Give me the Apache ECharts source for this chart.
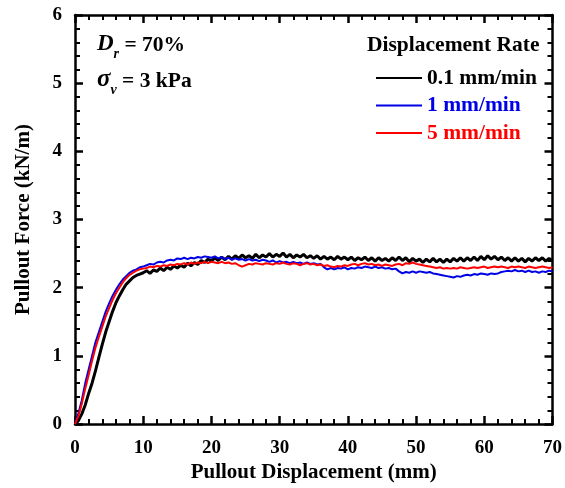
<!DOCTYPE html>
<html>
<head>
<meta charset="utf-8">
<script src="https://cdn.jsdelivr.net/npm/echarts@6/dist/echarts.min.js"></script>
<style>
  html, body { margin: 0; padding: 0; background: #fff; }
  #main { width: 565px; height: 488px; }
</style>
</head>
<body>
<div id="main"></div>
<script>
// pullout displacement (mm), sampled every 0.5 mm
var disp = [
  0, 0.5, 1, 1.5, 2, 2.5, 3, 3.5, 4, 4.5, 5, 5.5, 6, 6.5, 7, 7.5, 8, 8.5, 9, 9.5,
  10, 10.5, 11, 11.5, 12, 12.5, 13, 13.5, 14, 14.5, 15, 15.5, 16, 16.5, 17, 17.5, 18, 18.5, 19, 19.5,
  20, 20.5, 21, 21.5, 22, 22.5, 23, 23.5, 24, 24.5, 25, 25.5, 26, 26.5, 27, 27.5, 28, 28.5, 29, 29.5,
  30, 30.5, 31, 31.5, 32, 32.5, 33, 33.5, 34, 34.5, 35, 35.5, 36, 36.5, 37, 37.5, 38, 38.5, 39, 39.5,
  40, 40.5, 41, 41.5, 42, 42.5, 43, 43.5, 44, 44.5, 45, 45.5, 46, 46.5, 47, 47.5, 48, 48.5, 49, 49.5,
  50, 50.5, 51, 51.5, 52, 52.5, 53, 53.5, 54, 54.5, 55, 55.5, 56, 56.5, 57, 57.5, 58, 58.5, 59, 59.5,
  60, 60.5, 61, 61.5, 62, 62.5, 63, 63.5, 64, 64.5, 65, 65.5, 66, 66.5, 67, 67.5, 68, 68.5, 69, 69.5,
  70
];

// pullout force (kN/m) - 0.1 mm/min
var force01 = [
  0, 0.05, 0.15, 0.28, 0.45, 0.6, 0.78, 0.98, 1.17, 1.35, 1.5, 1.65, 1.78, 1.88, 1.97, 2.05, 2.1, 2.15, 2.18, 2.2,
  2.22, 2.25, 2.21, 2.26, 2.24, 2.29, 2.25, 2.30, 2.27, 2.32, 2.29, 2.33, 2.30, 2.36, 2.32, 2.37, 2.34, 2.40, 2.37, 2.42,
  2.39, 2.44, 2.40, 2.45, 2.41, 2.46, 2.42, 2.47, 2.43, 2.48, 2.44, 2.47, 2.43, 2.49, 2.44, 2.48, 2.45, 2.50, 2.45, 2.49,
  2.46, 2.51, 2.45, 2.49, 2.44, 2.48, 2.45, 2.49, 2.44, 2.47, 2.43, 2.47, 2.42, 2.46, 2.42, 2.45, 2.41, 2.46, 2.42, 2.45,
  2.41, 2.45, 2.40, 2.44, 2.41, 2.45, 2.40, 2.44, 2.39, 2.44, 2.40, 2.43, 2.39, 2.44, 2.40, 2.45, 2.40, 2.44, 2.38, 2.43,
  2.39, 2.42, 2.37, 2.42, 2.38, 2.43, 2.38, 2.42, 2.37, 2.42, 2.38, 2.43, 2.39, 2.44, 2.39, 2.44, 2.40, 2.45, 2.40, 2.46,
  2.41, 2.47, 2.42, 2.46, 2.41, 2.45, 2.40, 2.44, 2.39, 2.44, 2.39, 2.43, 2.38, 2.43, 2.39, 2.44, 2.40, 2.44, 2.39, 2.43,
  2.40
];

// pullout force (kN/m) - 1 mm/min
var force1 = [
  0, 0.16, 0.35, 0.6, 0.8, 1.0, 1.2, 1.35, 1.5, 1.65, 1.77, 1.88, 1.97, 2.05, 2.12, 2.17, 2.22, 2.25, 2.27, 2.30,
  2.31, 2.33, 2.35, 2.34, 2.37, 2.38, 2.37, 2.40, 2.41, 2.40, 2.43, 2.42, 2.44, 2.42, 2.44, 2.43, 2.45, 2.44, 2.46, 2.45,
  2.44, 2.46, 2.43, 2.45, 2.42, 2.44, 2.41, 2.43, 2.41, 2.42, 2.40, 2.42, 2.40, 2.41, 2.39, 2.41, 2.40, 2.38, 2.40, 2.37,
  2.39, 2.37, 2.38, 2.36, 2.38, 2.36, 2.37, 2.35, 2.37, 2.35, 2.36, 2.34, 2.35, 2.30, 2.27, 2.29, 2.27, 2.29, 2.28, 2.30,
  2.27, 2.29, 2.28, 2.30, 2.29, 2.31, 2.30, 2.29, 2.31, 2.29, 2.30, 2.28, 2.29, 2.27, 2.28, 2.24, 2.21, 2.23, 2.22, 2.24,
  2.22, 2.24, 2.23, 2.22, 2.23, 2.21, 2.20, 2.19, 2.18, 2.17, 2.16, 2.15, 2.17, 2.16, 2.18, 2.19, 2.18, 2.20, 2.19, 2.21,
  2.20, 2.19, 2.21, 2.20, 2.21, 2.23, 2.24, 2.25, 2.24, 2.26, 2.24, 2.25, 2.23, 2.25, 2.23, 2.24, 2.22, 2.24, 2.23, 2.25,
  2.24
];

// pullout force (kN/m) - 5 mm/min
var force5 = [
  0, 0.12, 0.3, 0.52, 0.72, 0.93, 1.12, 1.28, 1.43, 1.58, 1.7, 1.82, 1.92, 2.0, 2.08, 2.14, 2.19, 2.22, 2.25, 2.27,
  2.28, 2.29, 2.31, 2.30, 2.32, 2.31, 2.33, 2.32, 2.34, 2.33, 2.35, 2.34, 2.36, 2.34, 2.37, 2.35, 2.37, 2.36, 2.38, 2.36,
  2.38, 2.37, 2.36, 2.38, 2.36, 2.37, 2.35, 2.36, 2.33, 2.31, 2.33, 2.35, 2.34, 2.36, 2.35, 2.34, 2.36, 2.35, 2.34, 2.36,
  2.35, 2.37, 2.35, 2.34, 2.36, 2.35, 2.33, 2.35, 2.36, 2.34, 2.35, 2.33, 2.34, 2.32, 2.33, 2.31, 2.30, 2.32, 2.31, 2.33,
  2.32, 2.34, 2.35, 2.33, 2.35, 2.36, 2.34, 2.35, 2.33, 2.34, 2.32, 2.34, 2.33, 2.32, 2.34, 2.35, 2.33, 2.36, 2.35, 2.37,
  2.35, 2.34, 2.33, 2.32, 2.31, 2.30, 2.29, 2.30, 2.28, 2.29, 2.28, 2.29, 2.28, 2.30, 2.29, 2.28, 2.29, 2.30, 2.29, 2.30,
  2.31, 2.29, 2.30, 2.31, 2.30, 2.31, 2.30, 2.29, 2.31, 2.30, 2.31, 2.30, 2.29, 2.31, 2.30, 2.29, 2.30, 2.31, 2.30, 2.29,
  2.30
];

var seriesNames = ['0.1 mm/min', '1 mm/min', '5 mm/min'];
var seriesColors = ['#000000', '#0000e6', '#ff0000'];
var xTicks = [0, 10, 20, 30, 40, 50, 60, 70];
var yTicks = [0, 1, 2, 3, 4, 5, 6];

function pairs(xs, ys) {
  var out = [];
  for (var i = 0; i < xs.length; i++) out.push([xs[i], ys[i]]);
  return out;
}

var font = '"Liberation Serif", "Times New Roman", serif';
var chart = echarts.init(document.getElementById('main'), null, { renderer: 'canvas' });

var axisCommon = {
  axisLine: { show: true, onZero: false, lineStyle: { color: '#000', width: 2.5 } },
  axisTick: { show: true, inside: true, length: 8, lineStyle: { color: '#000', width: 2.5 } },
  minorTick: { show: true, splitNumber: 5, length: 5, lineStyle: { color: '#000', width: 2 } },
  splitLine: { show: false }
};

var option = {
  backgroundColor: '#fff',
  animation: false,
  grid: { left: 75, right: 9, top: 15, bottom: 62 },
  xAxis: [
    Object.assign({
      type: 'value', min: xTicks[0], max: xTicks[xTicks.length - 1], interval: 10,
      position: 'bottom',
      name: 'Pullout Displacement (mm)', nameLocation: 'middle', nameGap: 33,
      nameTextStyle: { fontFamily: font, fontWeight: 'bold', fontSize: 21, color: '#000' },
      axisLabel: { margin: 14, fontFamily: font, fontWeight: 'bold', fontSize: 19, color: '#000' }
    }, axisCommon),
    Object.assign({
      type: 'value', min: xTicks[0], max: xTicks[xTicks.length - 1], interval: 10,
      position: 'top', axisLabel: { show: false }
    }, axisCommon)
  ],
  yAxis: [
    Object.assign({
      type: 'value', min: yTicks[0], max: yTicks[yTicks.length - 1], interval: 1,
      position: 'left',
      name: 'Pullout Force (kN/m)', nameLocation: 'middle', nameGap: 41,
      nameTextStyle: { fontFamily: font, fontWeight: 'bold', fontSize: 21, color: '#000' },
      axisLabel: { margin: 13, fontFamily: font, fontWeight: 'bold', fontSize: 19, color: '#000' }
    }, axisCommon),
    Object.assign({
      type: 'value', min: yTicks[0], max: yTicks[yTicks.length - 1], interval: 1,
      position: 'right', axisLabel: { show: false }
    }, axisCommon)
  ],
  legend: {
    orient: 'vertical',
    left: 371,
    top: 62,
    itemWidth: 46,
    itemHeight: 2,
    itemGap: 5.5,
    icon: 'rect',
    textStyle: { fontFamily: font, fontWeight: 'bold', fontSize: 21.5, lineHeight: 22 },
    data: seriesNames.map(function (n, i) {
      return { name: n, textStyle: { color: seriesColors[i] } };
    })
  },
  graphic: [
    {
      type: 'text', left: 367, top: 34,
      style: { text: 'Displacement Rate', font: 'bold 21.5px ' + font, fill: '#000' }
    },
    {
      type: 'text', left: 97, top: 33,
      style: {
        text: '{i|D}{s|r}{n| = 70%}',
        rich: {
          i: { font: 'italic bold 23px ' + font, fill: '#000', verticalAlign: 'bottom', lineHeight: 26 },
          s: { font: 'italic bold 14px ' + font, fill: '#000', verticalAlign: 'bottom', padding: [0, 0, -5, 0], lineHeight: 26 },
          n: { font: 'bold 21.5px ' + font, fill: '#000', verticalAlign: 'bottom', lineHeight: 26 }
        }
      }
    },
    {
      type: 'text', left: 97, top: 67,
      style: {
        text: '{i|σ}{s|v}{n| = 3 kPa}',
        rich: {
          i: { font: 'italic bold 25px ' + font, fill: '#000', verticalAlign: 'bottom', lineHeight: 26 },
          s: { font: 'italic bold 14px ' + font, fill: '#000', verticalAlign: 'bottom', padding: [0, 0, -5, 0], lineHeight: 26 },
          n: { font: 'bold 21.5px ' + font, fill: '#000', verticalAlign: 'bottom', lineHeight: 26 }
        }
      }
    }
  ],
  series: [
    { name: seriesNames[0], type: 'line', data: pairs(disp, force01), showSymbol: false, symbol: 'none',
      lineStyle: { color: seriesColors[0], width: 3 }, itemStyle: { color: seriesColors[0] } },
    { name: seriesNames[1], type: 'line', data: pairs(disp, force1), showSymbol: false, symbol: 'none',
      lineStyle: { color: seriesColors[1], width: 2 }, itemStyle: { color: seriesColors[1] } },
    { name: seriesNames[2], type: 'line', data: pairs(disp, force5), showSymbol: false, symbol: 'none',
      lineStyle: { color: seriesColors[2], width: 2 }, itemStyle: { color: seriesColors[2] } }
  ]
};

chart.setOption(option);
</script>
</body>
</html>
